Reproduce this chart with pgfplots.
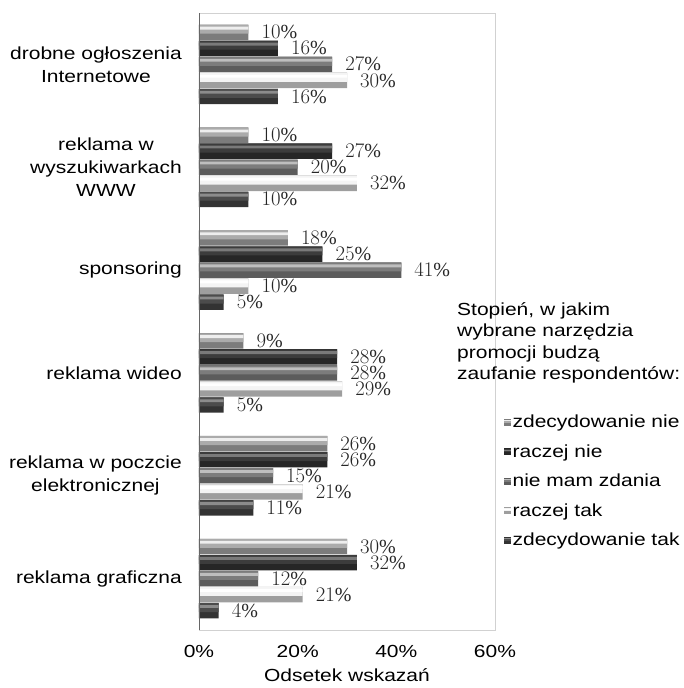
\documentclass[border=0pt]{standalone}
\usepackage{fontspec}
\setmainfont{Liberation Sans}[FakeStretch=1.2]
\newfontfamily\numfont{Liberation Serif}
\usepackage{pgfplots}
\usepackage{pgfplotstable}
\pgfplotsset{compat=1.18}

% c: category (5 = top), zn: zdecydowanie nie, rn: raczej nie, nm: nie mam zdania, rt: raczej tak, zt: zdecydowanie tak
\pgfplotstableread{
c zn rn nm rt zt
5 10 16 27 30 16
4 10 27 20 32 10
3 18 25 41 10 5
2 9  28 28 29 5
1 26 26 15 21 11
0 30 32 12 21 4
}\data

\definecolor{znA}{HTML}{7C7C7C}\definecolor{znB}{HTML}{ABABAB}\definecolor{znC}{HTML}{EEEEEE}
\definecolor{rnA}{HTML}{262626}\definecolor{rnB}{HTML}{3C3C3C}\definecolor{rnC}{HTML}{7A7A7A}
\definecolor{nmA}{HTML}{5C5C5C}\definecolor{nmB}{HTML}{7C7C7C}\definecolor{nmC}{HTML}{BEBEBE}
\definecolor{rtA}{HTML}{9E9E9E}\definecolor{rtB}{HTML}{F4F4F4}\definecolor{rtC}{HTML}{FFFFFF}
\definecolor{ztA}{HTML}{333333}\definecolor{ztB}{HTML}{4C4C4C}\definecolor{ztC}{HTML}{8C8C8C}

\newcommand{\lfont}{\fontsize{17.5}{23}\selectfont}

% #1 column, #2 centre shift, #3 series prefix, #4 legend text
\newcommand{\series}[4]{%
  \addplot[fill=#3A, draw=none, bar width=0.150, bar shift=#2,
    nodes near coords={\pgfmathprintnumber{\pgfplotspointmeta}\%},
    nodes near coords style={font=\numfont\fontsize{20}{21}\selectfont, anchor=west, inner sep=0pt, xshift=13pt, text=black!85},
    legend image code/.code={\fill[#3A] (0pt,-3.5pt) rectangle (7pt,3.5pt);\fill[#3B] (0pt,-0.5pt) rectangle (7pt,2.5pt);\fill[#3C] (0pt,1pt) rectangle (7pt,2pt);}]
    table[x=#1, y=c] {\data};
  \addlegendentry{#4}
  \addplot[fill=#3B, draw=none, bar width=0.086, bar shift=#2+0.030, forget plot]
    table[x=#1, y=c] {\data};
  \addplot[fill=#3C, draw=none, bar width=0.028, bar shift=#2+0.041, forget plot]
    table[x=#1, y=c] {\data};
}

\begin{document}
\begin{tikzpicture}
\path[use as bounding box] (0pt,0pt) rectangle (683pt,688pt);
\begin{axis}[
  at={(199pt,58pt)}, anchor=south west,
  scale only axis, width=296pt, height=617pt,
  xmin=0, xmax=60, ymin=-0.5, ymax=5.5,
  xbar,
  clip=false,
  axis line style={black!18},
  major tick length=0pt,
  xtick={0,20,40,60},
  xticklabels={0\%,20\%,40\%,60\%},
  xticklabel style={font=\lfont, anchor=base, yshift=-28pt},
  ytick={0,1,2,3,4,5},
  yticklabels={reklama graficzna, reklama w poczcie\\elektronicznej, reklama wideo, sponsoring, reklama w\\wyszukiwarkach\\WWW, drobne ogłoszenia\\Internetowe},
  yticklabel style={font=\lfont, align=center, anchor=east, inner sep=0pt, xshift=-17pt},
  xlabel={Odsetek wskazań},
  xlabel style={font=\lfont, at={(axis description cs:0.5,0)}, anchor=base, yshift=-52pt},
  legend style={at={(1.02,0.354)}, anchor=north west, draw=none, fill=none, font=\lfont, row sep=12.3pt, nodes={inner sep=1.5pt}},
  legend cell align=left,
]
\series{zn}{0.312}{zn}{zdecydowanie nie}
\series{rn}{0.156}{rn}{raczej nie}
\series{nm}{0}{nm}{nie mam zdania}
\series{rt}{-0.156}{rt}{raczej tak}
\series{zt}{-0.312}{zt}{zdecydowanie tak}
\draw[black!60] (rel axis cs:0,0) -- (rel axis cs:0,1);
\end{axis}
\node[anchor=north west, align=left, inner sep=0pt, font=\fontsize{17.5}{21.5}\selectfont] at (457pt,386pt)
  {Stopień, w jakim\\wybrane narzędzia\\promocji budzą\\zaufanie respondentów:};
\end{tikzpicture}
\end{document}
